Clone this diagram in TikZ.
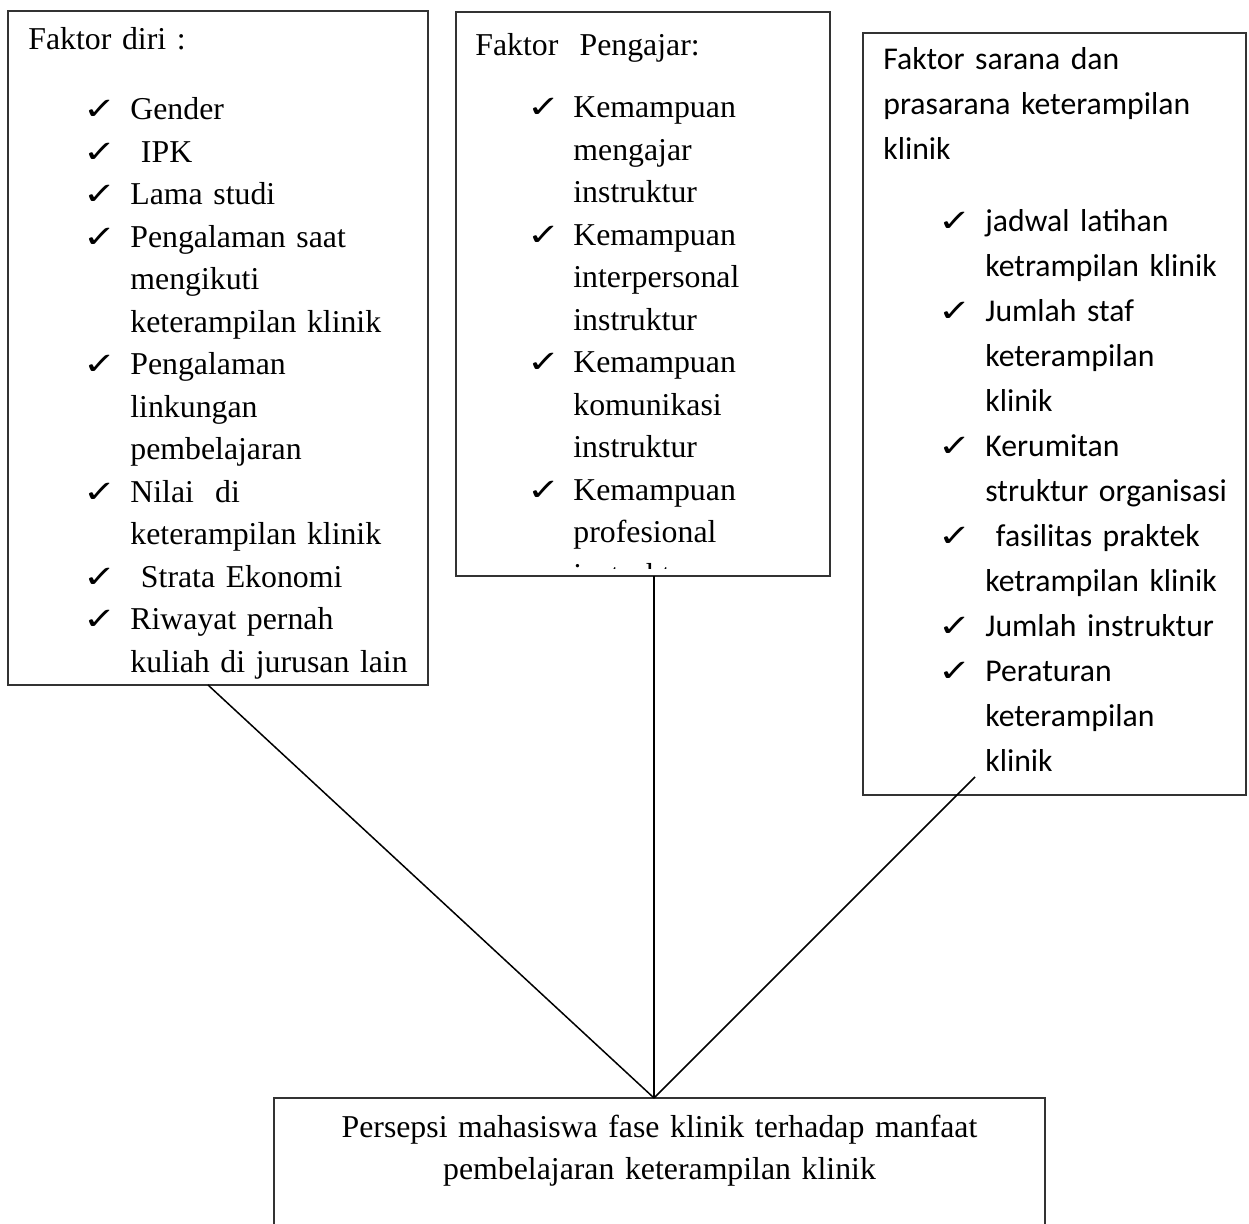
\documentclass[tikz,border=0pt]{standalone}
\usepackage{fontspec}
\setmainfont{Liberation Serif}
\newfontfamily\calfont{Carlito}
\newfontfamily\chkfont{DejaVu Sans}
\usetikzlibrary{calc}

\newlength{\chkin}
\newlength{\txtin}
\newcommand{\chk}{\scalebox{1.1}[0.85]{\chkfont\fontsize{18}{18}\selectfont ✓}}
\newcommand{\itm}[1]{\hspace*{\chkin}\makebox[\dimexpr\txtin-\chkin\relax][l]{\chk}#1}
\newcommand{\cnt}[1]{\hspace*{\txtin}#1}

\begin{document}
\begin{tikzpicture}[x=0.5pt,y=-0.5pt,
  fbox/.style={draw=black!80,line width=1pt,inner sep=0pt,outer sep=0pt,anchor=north west},
  txt/.style={inner sep=0pt,anchor=base west,align=left,text width=230pt,
    font=\fontsize{15.9}{21.25}\selectfont},
  caltxt/.style={txt,font=\calfont\fontsize{15.85}{22.5}\selectfont},
  link/.style={line width=0.75pt}]
\useasboundingbox (0,0) rectangle (1249,1224);

\node[fbox,minimum width=210pt,minimum height=337pt] (diri) at (8,11) {};
\node[fbox,minimum width=187pt,minimum height=282pt] (pengajar) at (456,12) {};
\node[fbox,minimum width=191.5pt,minimum height=381pt] (sarana) at (863,33) {};
\node[fbox,minimum width=385.5pt,minimum height=81pt] (persepsi) at (274,1098) {};

\node[txt] (diritxt) at ($(diri.north west)+(20,39)$) {%
\setlength{\chkin}{27.5pt}\setlength{\txtin}{51pt}%
Faktor diri :\\[13.75pt]
\itm{Gender}\\
\itm{\ IPK}\\
\itm{Lama studi}\\
\itm{Pengalaman saat}\\
\cnt{mengikuti}\\
\cnt{keterampilan klinik}\\
\itm{Pengalaman}\\
\cnt{linkungan}\\
\cnt{pembelajaran}\\
\itm{Nilai\ \ di}\\
\cnt{keterampilan klinik}\\
\itm{\ Strata Ekonomi}\\
\itm{Riwayat pernah}\\
\cnt{kuliah di jurusan lain}};

\begin{scope}
\clip (pengajar.north west) rectangle ($(pengajar.south east)+(0,-7)$);
\node[txt] (pengajartxt) at ($(pengajar.north west)+(19,44)$) {%
\setlength{\chkin}{26pt}\setlength{\txtin}{49pt}%
Faktor\ \ Pengajar:\\[9.75pt]
\itm{Kemampuan}\\
\cnt{mengajar}\\
\cnt{instruktur}\\
\itm{Kemampuan}\\
\cnt{interpersonal}\\
\cnt{instruktur}\\
\itm{Kemampuan}\\
\cnt{komunikasi}\\
\cnt{instruktur}\\
\itm{Kemampuan}\\
\cnt{profesional}\\
\cnt{instruktur}};
\end{scope}

\node[caltxt] (saranatxt) at ($(sarana.north west)+(20,37)$) {%
\setlength{\chkin}{27.5pt}\setlength{\txtin}{51pt}%
Faktor sarana dan\\
prasarana keterampilan\\
klinik\\[13.5pt]
\itm{jadwal latihan}\\
\cnt{ketrampilan klinik}\\
\itm{Jumlah staf}\\
\cnt{keterampilan}\\
\cnt{klinik}\\
\itm{Kerumitan}\\
\cnt{struktur organisasi}\\
\itm{\ fasilitas praktek}\\
\cnt{ketrampilan klinik}\\
\itm{Jumlah instruktur}\\
\itm{Peraturan}\\
\cnt{keterampilan}\\
\cnt{klinik}};

\node[txt,anchor=base,align=center,text width=380pt] (persepsitxt) at ($(persepsi.north)+(0,39)$) {%
Persepsi mahasiswa fase klinik terhadap manfaat\\
pembelajaran keterampilan klinik};

\coordinate (meet) at ($(persepsi.north)+(-5.5,0)$);
\draw[link] ($(diri.south)+(-10,0)$) -- (meet);
\draw[link] (pengajar.south -| meet) -- (meet);
\draw[link] (meet) -- ($(sarana.south)+(-79.5,-18)$);
\end{tikzpicture}
\end{document}
